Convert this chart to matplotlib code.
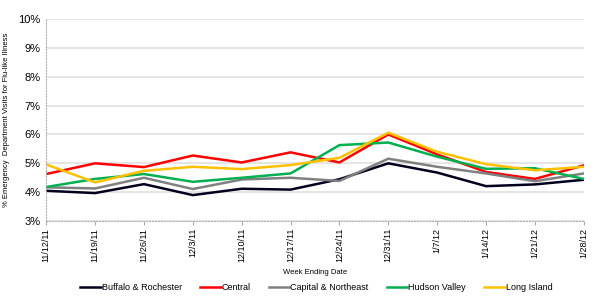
import matplotlib
matplotlib.use("Agg")
import matplotlib.pyplot as plt
from matplotlib.ticker import FuncFormatter

plt.rcParams['font.family'] = ['Liberation Sans', 'DejaVu Sans']

weeks = ['11/12/11', '11/19/11', '11/26/11', '12/3/11', '12/10/11', '12/17/11',
         '12/24/11', '12/31/11', '1/7/12', '1/14/12', '1/21/12', '1/28/12']

buffalo = [4.05, 3.97, 4.28, 3.90, 4.12, 4.09, 4.45, 5.00, 4.68, 4.21, 4.27, 4.43]
central = [4.63, 5.00, 4.87, 5.27, 5.03, 5.38, 5.03, 6.00, 5.31, 4.70, 4.46, 4.93]
capital = [4.17, 4.13, 4.50, 4.11, 4.44, 4.50, 4.39, 5.16, 4.88, 4.65, 4.38, 4.65]
hudson = [4.18, 4.46, 4.63, 4.36, 4.50, 4.65, 5.63, 5.72, 5.23, 4.81, 4.83, 4.46]
long_island = [4.96, 4.34, 4.74, 4.88, 4.80, 4.94, 5.19, 6.06, 5.40, 4.97, 4.76, 4.88]

series = [
    ('Buffalo & Rochester', buffalo, '#00001e'),
    ('Central', central, '#ff0000'),
    ('Capital & Northeast', capital, '#808080'),
    ('Hudson Valley', hudson, '#00b050'),
    ('Long Island', long_island, '#ffc000'),
]

fig = plt.figure(figsize=(6, 3), dpi=100)
ax = fig.add_axes([0.077, 0.263, 0.896, 0.674])

x = range(len(weeks))
for name, vals, col in series:
    ax.plot(x, vals, color=col, lw=1.8, label=name)

ax.set_ylim(3, 10)
ax.set_xlim(0, len(weeks) - 1)
ax.set_yticks(range(3, 11))
ax.yaxis.set_major_formatter(FuncFormatter(lambda v, p: '%d%%' % v))
ax.set_xticks(list(x))
ax.set_xticklabels(weeks, rotation=90, fontsize=6.5)
ax.tick_params(axis='y', labelsize=8, length=0, pad=4)
ax.tick_params(axis='x', length=3, color='#aaaaaa', pad=2)
ax.grid(axis='y', color='#e0e0e0', lw=1.2)
ax.set_axisbelow(True)
for s in ['top', 'right']:
    ax.spines[s].set_visible(False)
for s in ['left', 'bottom']:
    ax.spines[s].set_color('#b0b0b0')
    ax.spines[s].set_linestyle(':')
    ax.spines[s].set_linewidth(0.8)

ax.set_ylabel('% Emergency  Department Visits for Flu-like Illness', fontsize=5.5, labelpad=6)
ax.set_xlabel('Week Ending Date', fontsize=5.5, labelpad=5)

fig.legend(loc='lower center', bbox_to_anchor=(0.527, 0.0), ncol=5, frameon=False,
           fontsize=6.5, handlelength=2.3, handletextpad=0.1, columnspacing=2.0)

fig.savefig('out.png', dpi=100)
